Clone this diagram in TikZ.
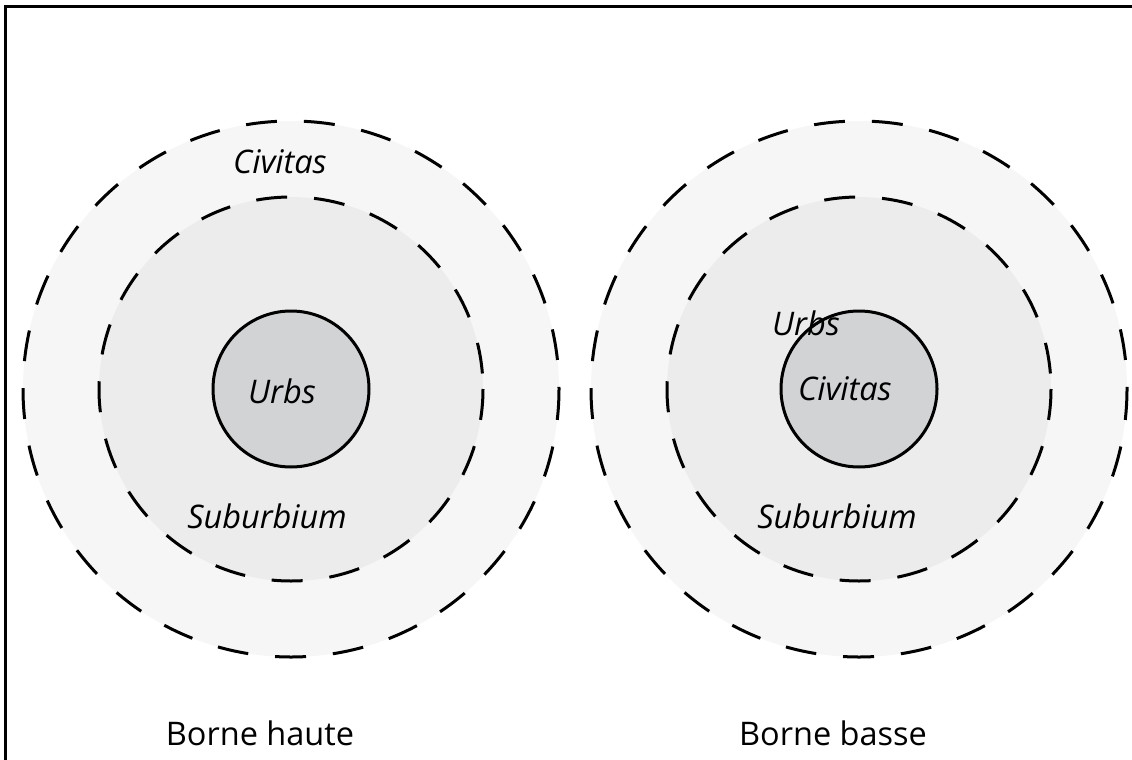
\documentclass[tikz,border=0pt]{standalone}
\usepackage{fontspec}
\setmainfont{Open Sans}
\usepackage{tikz}
\usetikzlibrary{positioning}

\definecolor{zoneout}{HTML}{F6F6F6}
\definecolor{zonemid}{HTML}{ECECEC}
\definecolor{zonein}{HTML}{D1D3D4}

\begin{document}
\begin{tikzpicture}[x=1pt, y=-1pt,
		limit/.style={line width=3pt, dash pattern=on 31pt off 27pt},
		core/.style={line width=3pt},
		zone/.style={font=\fontsize{32.5}{38}\selectfont\itshape, inner sep=0pt},
		caption/.style={font=\fontsize{32.5}{38}\selectfont, inner sep=0pt}]
		\useasboundingbox (0,0) rectangle (1132,760);

		% frame (top and left only)
		\draw [line width=3pt] (1132,7) -- (5,7) -- (5,760);

		% centres of the two schemes
		\coordinate (hc) at (291,389);
		\coordinate (bc) at (859,389);

		% three rings for each bound
		\foreach \c in {hc,bc} {
			\fill [zoneout] (\c) circle (268);
			\draw [limit] (\c) circle (268);
			\fill [zonemid] (\c) circle (192);
			\draw [limit] (\c) circle (192);
			\fill [zonein] (\c) circle (78);
			\draw [core] (\c) circle (78);
		}

		% borne haute labels
		\node [zone, anchor=base] (hciv) at (280,173) {Civitas};
		\node [zone, anchor=base] (hurb) at (282,403) {Urbs};
		\node [zone, anchor=base] (hsub) at (267,528) {Suburbium};
		\node [caption, anchor=base] (haute) at (260,745) {Borne haute};

		% borne basse labels
		\node [zone, anchor=base] (burb) at (806,335) {Urbs};
		\node [zone, anchor=base] (bciv) at (845,400) {Civitas};
		\node [zone, anchor=base] (bsub) at (837,528) {Suburbium};
		\node [caption, anchor=base] (basse) at (833,745) {Borne basse};
	\end{tikzpicture}
\end{document}
